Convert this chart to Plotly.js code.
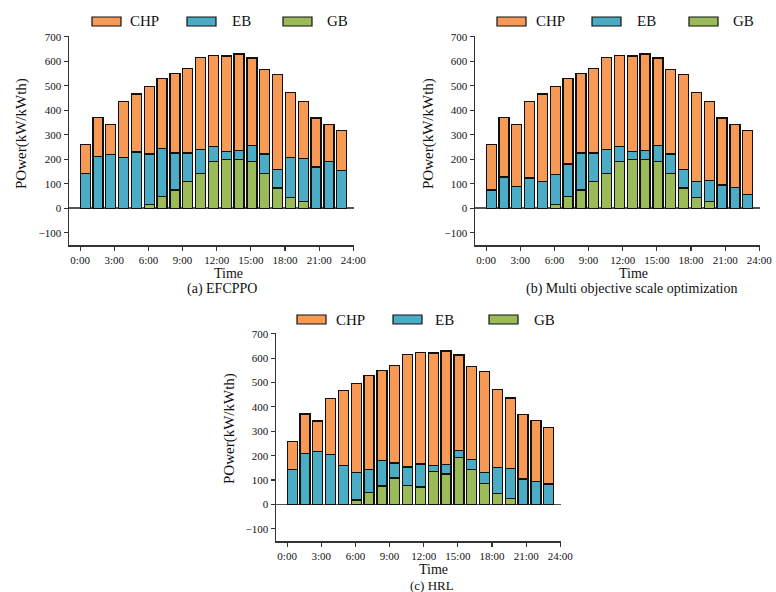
<!DOCTYPE html>
<html>
<head>
<meta charset="utf-8">
<script src="https://cdn.plot.ly/plotly-3.0.1.min.js"></script>
<style>html,body{margin:0;padding:0;background:#fff}#chart{width:776px;height:592px}</style>
</head>
<body>
<div id="chart"></div>
<script>
// ---- data ----
const slots = [0,1,2,3,4,5,6,7,8,9,10,11,12,13,14,15,16,17,18,19,20];
const tickHours = [0,3,6,9,12,15,18,21,24];
const tickLabels = ["0:00","3:00","6:00","9:00","12:00","15:00","18:00","21:00","24:00"];
const seriesNames = ["CHP","EB","GB"];
const captions = ["(a) EFCPPO","(b) Multi objective scale optimization","(c) HRL"];

// total stacked height per slot (same demand in every panel)
const totalLoad = [259,371,342,435,466,496,530,549,571,616,624,621,629,613,565,545,471,437,368,343,316];

// (a) EFCPPO
const gbA  = [0,0,0,0,0,16,48,75,109,143,191,199,198,192,143,83,45,27,0,0,0];
const ebTopA = [143,211,218,206,230,222,245,225,225,240,252,232,236,255,221,159,208,203,168,192,155];
// (b) Multi objective scale optimization
const gbB  = [0,0,0,0,0,16,48,75,109,143,191,199,198,192,143,83,45,27,0,0,0];
const ebTopB = [75,128,89,123,108,138,181,225,225,240,253,233,236,255,221,159,110,114,95,86,56];
// (c) HRL
const gbC  = [0,0,0,0,0,18,49,76,108,78,72,136,125,192,143,86,46,25,0,0,0];
const ebTopC = [144,210,217,204,159,131,143,180,170,153,166,159,165,221,184,132,151,146,104,93,84];

// ---- styling ----
const colors = {CHP:"#F79A55", EB:"#4BACC6", GB:"#9BBB59"};
const FONT = "Liberation Serif, Times New Roman, serif";
const W = 776, H = 592;

// bar centre in hours for each slot
const slotHour = slots.map(k => 0.44 + k*1.127);

const panels = [
  {gb: gbA, ebTop: ebTopA, xd:[69/W,354/W], yd:[1-245/H,1-36/H]},
  {gb: gbB, ebTop: ebTopB, xd:[475/W,760/W], yd:[1-245/H,1-36/H]},
  {gb: gbC, ebTop: ebTopC, xd:[276/W,561/W], yd:[1-541/H,1-333/H]}
];

const traces = [];
const layout = {
  width: W, height: H,
  margin: {l:0,r:0,t:0,b:0},
  paper_bgcolor: "#fff", plot_bgcolor: "#fff",
  barmode: "stack", bargap: 0,
  showlegend: false,
  font: {family: FONT, color: "#111", size: 11},
  shapes: [], annotations: []
};

panels.forEach((p, i) => {
  const n = i === 0 ? "" : String(i+1);
  const xa = "x" + n, ya = "y" + n;
  const eb = p.ebTop.map((v, k) => v - p.gb[k]);
  const chp = totalLoad.map((v, k) => v - p.ebTop[k]);
  const vals = {GB: p.gb, EB: eb, CHP: chp};
  ["GB","EB","CHP"].forEach(name => {
    traces.push({
      type: "bar", x: slotHour, y: vals[name], name: name,
      xaxis: xa, yaxis: ya, width: 0.88,
      marker: {color: colors[name], line: {color: "#111", width: 1.3}},
      hoverinfo: "skip"
    });
  });
  layout["xaxis" + n] = {
    domain: p.xd, anchor: ya, range: [-0.98, 24.06],
    tickmode: "array", tickvals: tickHours, ticktext: tickLabels,
    ticks: "outside", ticklen: 4, tickwidth: 1.2, tickcolor: "#333",
    showline: true, linecolor: "#333", linewidth: 1.5,
    showgrid: false, zeroline: false,
    tickfont: {family: FONT, size: 11, color: "#111"},
    fixedrange: true
  };
  layout["yaxis" + n] = {
    domain: p.yd, anchor: xa, range: [-150, 703],
    tickmode: "linear", tick0: 0, dtick: 100,
    ticks: "outside", ticklen: 4, tickwidth: 1.2, tickcolor: "#333",
    showline: true, linecolor: "#333", linewidth: 1.5,
    showgrid: false, zeroline: true, zerolinecolor: "#555", zerolinewidth: 1.6,
    tickfont: {family: FONT, size: 11, color: "#111"},
    fixedrange: true
  };
});

// axis titles & captions (pixel positions -> paper)
function ann(text, px, py, size, angle) {
  layout.annotations.push({
    text: text, xref: "paper", yref: "paper", x: px/W, y: 1-py/H,
    xanchor: "center", yanchor: "middle", showarrow: false,
    textangle: angle || 0, font: {family: FONT, size: size, color: "#111"}
  });
}
ann("POwer(kW/kWth)", 22, 134, 15, -90);
ann("POwer(kW/kWth)", 429, 134, 15, -90);
ann("POwer(kW/kWth)", 229, 429, 15, -90);
ann("Time", 228, 273, 14); ann(captions[0], 222, 289, 14);
ann("Time", 633, 273, 14); ann(captions[1], 632, 289, 14);
ann("Time", 433, 569, 14); ann(captions[2], 432, 585, 13);

// legends drawn as swatches + labels
const legendPos = [
  {y: 21.5, sw: [92,187,283], tx: [128,230,325]},
  {y: 21.5, sw: [497,592,689], tx: [534,635,731]},
  {y: 319.5, sw: [297,393,489], tx: [334,433,532]}
];
legendPos.forEach(L => {
  seriesNames.forEach((s, j) => {
    layout.shapes.push({
      type: "rect", xref: "paper", yref: "paper",
      x0: L.sw[j]/W, x1: (L.sw[j]+29)/W, y0: 1-(L.y+4.5)/H, y1: 1-(L.y-4.5)/H,
      fillcolor: colors[s], line: {color: "#111", width: 1.2}
    });
    layout.annotations.push({
      text: s, xref: "paper", yref: "paper", x: L.tx[j]/W, y: 1-L.y/H,
      xanchor: "left", yanchor: "middle", showarrow: false,
      font: {family: FONT, size: 15, color: "#111"}
    });
  });
});

Plotly.newPlot("chart", traces, layout, {displayModeBar: false, staticPlot: true});
</script>
</body>
</html>
